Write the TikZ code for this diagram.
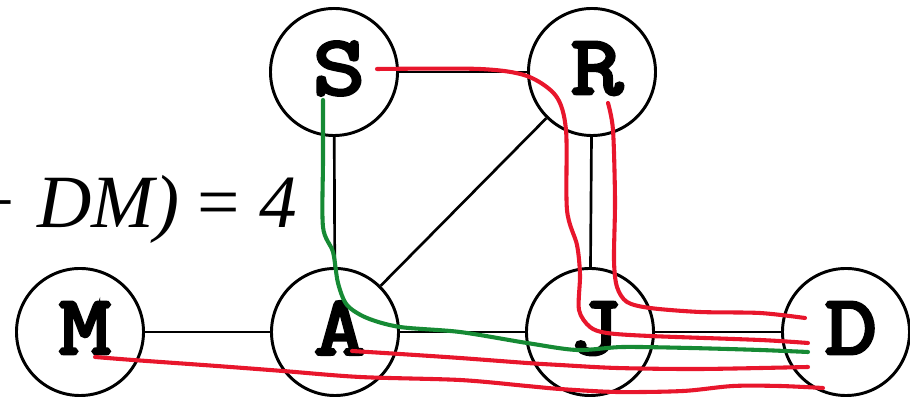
\documentclass[tikz,border=0pt]{standalone}
\usepackage{fontspec}
\setmainfont{Liberation Serif}
\newfontfamily\vfont{Latin Modern Mono}[FakeBold=4, FakeStretch=1.2]
\definecolor{penred}{RGB}{232,22,44}
\definecolor{pengreen}{RGB}{22,138,52}
\tikzset{
  vertex/.style={circle, draw=black, line width=2.1pt, minimum size=3.175cm, inner sep=0pt,
    text depth=0.2cm, font=\fontsize{60}{60}\selectfont\vfont},
  edge/.style={draw=black, line width=1.9pt},
  redpen/.style={draw=penred, line width=2.9pt, line cap=round, line join=round},
  greenpen/.style={draw=pengreen, line width=2.9pt, line cap=round, line join=round},
}
\newcommand{\vl}[1]{\hspace*{0.25cm}#1}
\begin{document}
\begin{tikzpicture}[x=0.025cm, y=-0.025cm]
\useasboundingbox (0,0) rectangle (910,398);
\clip (0,0) rectangle (910,398);
% nodes
\node[vertex] (S) at (334,72) {\vl{S}};
\node[vertex] (R) at (592,72) {\vl{R}};
\node[vertex] (M) at (80,332) {\vl{M}};
\node[vertex] (A) at (335,332) {\vl{A}};
\node[vertex] (J) at (590,332) {\vl{J}};
\node[vertex] (D) at (846,332) {\vl{D}};
% edges
\draw[edge] (S) -- (R);
\draw[edge] (S) -- (A);
\draw[edge] (A) -- (R);
\draw[edge] (R) -- (J);
\draw[edge] (M) -- (A);
\draw[edge] (A) -- (J);
\draw[edge] (J) -- (D);
% formula fragment
\node[anchor=base east, inner sep=0pt, font=\fontsize{53.5}{60}\selectfont] (eq) at (297,228)
  {\itshape −\ DM)\/ \upshape= \itshape 4};
% hand-drawn paths
\draw[redpen] plot[smooth, tension=0.5] coordinates {
  (377,69) (480,69) (527,76) (556,96) (566,130) (567,210) (577,245) (580,275) (579,310)
  (590,327) (607,333) (650,336) (760,340) (808,343)};
\draw[redpen] plot[smooth, tension=0.5] coordinates {
  (608,103) (613,130) (615,200) (614,260) (617,287) (627,302) (650,308) (700,312) (760,313) (805,318)};
\draw[greenpen] plot[smooth, tension=0.5] coordinates {
  (323,100) (323,160) (323,227) (333,252) (338,283) (347,305) (367,318) (400,327)
  (460,332) (527,343) (577,350) (623,347) (690,348) (760,350) (808,352)};
\draw[redpen] plot[smooth, tension=0.5] coordinates {
  (352,351) (400,354) (460,358) (527,363) (560,365) (617,368) (700,369) (808,367)};
\draw[redpen] plot[smooth, tension=0.5] coordinates {
  (95,357) (133,360) (217,366) (283,371) (360,377) (460,380) (527,386) (560,389)
  (617,392) (683,391) (733,386) (780,386) (823,388)};
\end{tikzpicture}
\end{document}
